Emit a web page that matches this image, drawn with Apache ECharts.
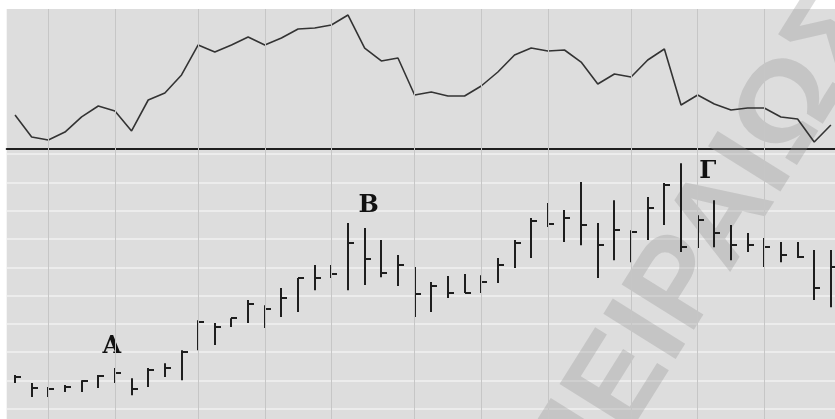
<!DOCTYPE html>
<html>
<head>
<meta charset="utf-8">
<script src="https://cdn.jsdelivr.net/npm/echarts@6/dist/echarts.min.js"></script>
<style>
  html, body { margin: 0; padding: 0; background: #fff; }
  #chart { width: 835px; height: 419px; }
</style>
</head>
<body>
<div id="chart"></div>
<script>
// indicator line (top panel), one value per session
const topLine = [24.3, 8.6, 6.4, 12.1, 22.9, 30.7, 27.1, 12.9, 35.0, 40.0,
  52.9, 74.3, 69.3, 74.3, 80.0, 74.3, 79.3, 85.7, 86.4, 88.6,
  95.7, 72.1, 62.9, 65.0, 38.6, 40.7, 37.9, 37.9, 45.0, 55.0,
  67.1, 72.1, 70.0, 70.7, 62.1, 46.4, 53.6, 51.4, 63.6, 71.4,
  31.4, 38.6, 32.1, 27.9, 29.3, 29.3, 22.9, 21.4, 5.0, 17.1];

// high / low / close bars (bottom panel)
const highs = [21.9, 19.1, 17.7, 18.4, 20.1, 21.9, 24.4, 20.8, 24.4, 26.1,
  30.7, 41.3, 40.3, 42.0, 48.4, 46.6, 52.7, 56.2, 60.8, 60.8,
  75.6, 73.9, 69.6, 64.3, 60.1, 54.8, 56.9, 57.6, 57.2, 63.3,
  69.6, 77.4, 82.7, 80.2, 90.1, 75.6, 83.7, 73.1, 84.8, 89.8,
  96.8, 78.4, 83.7, 74.9, 72.1, 70.3, 68.9, 68.9, 66.1, 66.1];
const lows = [19.1, 14.1, 14.1, 15.9, 15.9, 17.3, 19.1, 14.8, 17.7, 21.2,
  20.1, 30.7, 32.5, 38.9, 40.3, 38.5, 42.4, 44.2, 51.9, 56.2,
  51.9, 53.7, 56.5, 53.4, 42.4, 44.2, 49.1, 50.9, 50.9, 54.4,
  59.7, 63.3, 74.2, 68.9, 67.8, 56.2, 62.5, 61.8, 69.6, 74.9,
  65.4, 66.8, 67.1, 62.5, 65.4, 60.1, 61.8, 63.3, 48.4, 45.9];
const closes = [21.2, 17.3, 17.0, 17.7, 19.8, 21.6, 22.6, 17.0, 23.7, 24.4,
  30.0, 40.6, 38.9, 42.0, 47.0, 45.2, 49.1, 56.2, 56.2, 57.6,
  68.6, 62.9, 58.0, 60.8, 50.5, 53.4, 50.9, 50.9, 54.8, 60.8,
  68.6, 76.3, 75.3, 77.4, 74.9, 67.8, 73.1, 72.4, 80.9, 89.0,
  67.1, 76.7, 72.1, 67.8, 67.8, 67.1, 64.3, 63.6, 52.7, 60.1];

// sessions where a new week starts (vertical grid lines)
const weekStarts = [2, 6, 11, 15, 19, 24, 28, 32, 37, 41, 45];

// pattern labels: [session, price, text]
const marks = [[6, 31.8, 'A'], [21, 81.6, 'B'], [41, 93.6, 'Γ']];
const markOffsets = [[-3, 0], [4, 0], [10, 0]];

const days = highs.map((_, i) => String(i + 1));
const bars = highs.map((h, i) => [i, h, lows[i], closes[i]]);

const bg = '#dddddd';
const vLine = {
  silent: true,
  symbol: ['none', 'none'],
  label: { show: false },
  lineStyle: { color: '#c6c6c6', width: 1, type: 'solid' },
  emphasis: { disabled: true },
  animation: false,
  data: weekStarts.map((i) => ({ xAxis: days[i] })),
};

const chart = echarts.init(document.getElementById('chart'), null, { renderer: 'canvas' });

chart.setOption({
  backgroundColor: '#ffffff',
  animation: false,
  grid: [
    { left: 6.7, width: 832.5, top: 9, height: 140, show: true, backgroundColor: bg, borderWidth: 0, outerBoundsMode: 'none' },
    { left: 6.7, width: 832.5, top: 149, height: 288, show: true, backgroundColor: bg, borderWidth: 0, outerBoundsMode: 'none' },
  ],
  xAxis: [
    {
      type: 'category', gridIndex: 0, data: days,
      axisLine: { show: true, onZero: false, lineStyle: { color: '#1e1e1e', width: 2 } },
      axisTick: { show: false }, axisLabel: { show: false }, splitLine: { show: false },
    },
    {
      type: 'category', gridIndex: 1, data: days,
      axisLine: { show: false }, axisTick: { show: false }, axisLabel: { show: false }, splitLine: { show: false },
    },
  ],
  yAxis: [
    {
      type: 'value', gridIndex: 0, min: 0, max: 100,
      axisLine: { show: false }, axisTick: { show: false }, axisLabel: { show: false }, splitLine: { show: false },
    },
    {
      type: 'value', gridIndex: 1, min: 0, max: 101.8, interval: 10,
      axisLine: { show: false }, axisTick: { show: false }, axisLabel: { show: false },
      splitLine: { show: true, lineStyle: { color: '#f0f0f0', width: 1.5 } },
    },
  ],
  graphic: [
    {
      type: 'text',
      x: 551, y: 494,
      rotation: 58 * Math.PI / 180,
      silent: true,
      z: 1,
      style: {
        text: 'ΠΕΙΡΑΙΩΣ',
        fontFamily: 'Liberation Sans',
        fontWeight: 'bold',
        fontSize: 124,
        fill: 'rgba(150,150,150,0.33)',
        textAlign: 'left',
        textVerticalAlign: 'middle',
      },
    },
  ],
  series: [
    {
      type: 'line',
      xAxisIndex: 0, yAxisIndex: 0,
      data: topLine,
      symbol: 'none',
      z: 3,
      lineStyle: { color: '#333333', width: 1.6 },
      markLine: vLine,
    },
    {
      type: 'custom',
      xAxisIndex: 1, yAxisIndex: 1,
      data: bars,
      z: 3,
      renderItem: function (params, api) {
        const hi = api.coord([api.value(0), api.value(1)]);
        const lo = api.coord([api.value(0), api.value(2)]);
        const cl = api.coord([api.value(0), api.value(3)]);
        const x = Math.round(hi[0]);
        const st = { stroke: '#1e1e1e', lineWidth: 2 };
        return {
          type: 'group',
          children: [
            { type: 'line', shape: { x1: x, y1: hi[1], x2: x, y2: lo[1] }, style: st },
            { type: 'line', shape: { x1: x, y1: Math.round(cl[1]), x2: x + 6, y2: Math.round(cl[1]) }, style: st },
          ],
        };
      },
      markLine: vLine,
    },
    {
      type: 'scatter',
      xAxisIndex: 1, yAxisIndex: 1,
      symbolSize: 0,
      z: 4,
      itemStyle: { opacity: 1 },
      data: marks.map((m, i) => ({
        value: [m[0], m[1]],
        name: m[2],
        label: { offset: markOffsets[i] },
      })),
      label: {
        show: true, position: 'inside', formatter: '{b}', opacity: 1,
        color: '#111111', textBorderWidth: 0, textShadowBlur: 0,
        fontFamily: 'DejaVu Serif', fontWeight: 'bold', fontSize: 24,
      },
    },
  ],
});
</script>
</body>
</html>
